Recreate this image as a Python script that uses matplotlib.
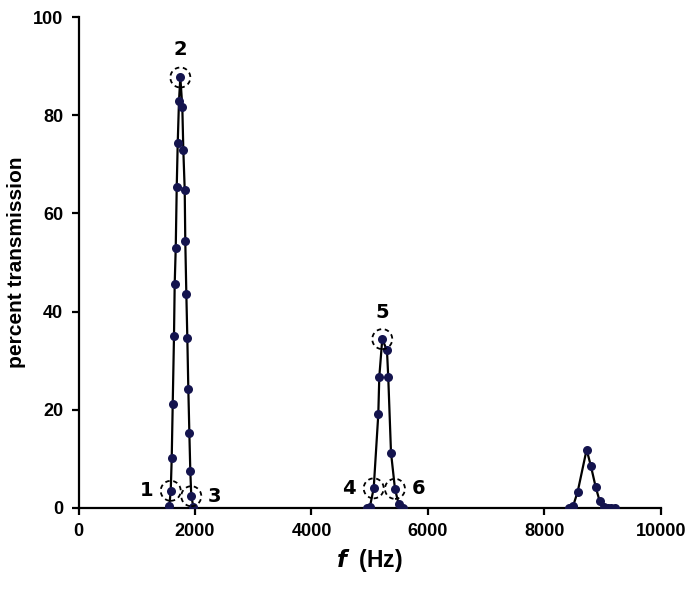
import matplotlib
matplotlib.use('Agg')
import matplotlib.pyplot as plt
from matplotlib.patches import Circle
from matplotlib.transforms import ScaledTranslation

# Transmission spectrum, three passbands
freq_1 = [1559, 1583, 1600, 1617, 1639, 1651, 1669, 1686, 1703, 1725, 1748,
          1782, 1799, 1823, 1833, 1851, 1868, 1885, 1903, 1919, 1936, 1971]
trans_1 = [0.4, 3.5, 10.2, 21.1, 35.0, 45.6, 53.0, 65.4, 74.3, 83.0, 87.7,
           81.7, 73.0, 64.8, 54.3, 43.6, 34.6, 24.3, 15.2, 7.6, 2.4, 0.3]

freq_2 = [4960, 5000, 5068, 5147, 5164, 5215, 5296, 5318, 5365, 5433, 5497, 5566]
trans_2 = [0.0, 0.1, 4.0, 19.1, 26.7, 34.4, 32.1, 26.6, 11.3, 3.9, 0.8, 0.0]

freq_3 = [8415, 8494, 8570, 8724, 8798, 8879, 8948, 9021, 9095, 9150, 9210]
trans_3 = [0.0, 0.5, 3.3, 11.9, 8.5, 4.3, 1.4, 0.1, 0.0, 0.0, 0.0]

# circled points: label, (f, T), label offset in points
marked = [('1', (1583, 3.5), (-17, 0)),
          ('2', (1748, 87.7), (0, 20)),
          ('3', (1936, 2.4), (17, 0)),
          ('4', (5068, 4.0), (-18, 0)),
          ('5', (5215, 34.4), (0, 19)),
          ('6', (5433, 3.9), (17, 0))]

line_color = 'black'
dot_color = '#14144e'

fig = plt.figure(figsize=(6.95, 5.9), dpi=100)
ax = fig.add_axes([0.113, 0.139, 0.838, 0.832])

for f, t in [(freq_1, trans_1), (freq_2, trans_2), (freq_3, trans_3)]:
    ax.plot(f, t, '-', color=line_color, linewidth=1.6, zorder=2)
    ax.plot(f, t, 'o', color=dot_color, markersize=6.5, markeredgewidth=0, zorder=3)

ax.set_xlim(0, 10000)
ax.set_ylim(0, 100)
ax.set_xticks([0, 2000, 4000, 6000, 8000, 10000])
ax.set_yticks([0, 20, 40, 60, 80, 100])

for lab, (fx, fy), off in marked:
    tr = fig.dpi_scale_trans + ScaledTranslation(fx, fy, ax.transData)
    circ = Circle((0, 0), 0.1, transform=tr, fill=False, edgecolor='black',
                  linestyle=(0, (2.5, 2)), linewidth=1.3, zorder=4, clip_on=False)
    ax.add_patch(circ)
    ax.annotate(lab, (fx, fy), xytext=off, textcoords='offset points',
                ha='center', va='center', fontsize=14, fontweight='bold',
                family='Liberation Sans Narrow', color='black')

for s in ['top', 'right']:
    ax.spines[s].set_visible(False)
for s in ['left', 'bottom']:
    ax.spines[s].set_linewidth(1.6)
    ax.spines[s].set_color('black')

ax.tick_params(direction='out', length=5, width=1.6, labelsize=13, pad=6)
for lbl in ax.get_xticklabels() + ax.get_yticklabels():
    lbl.set_fontweight('bold')
    lbl.set_family('Liberation Sans')

ax.set_ylabel('percent transmission', fontsize=15, fontweight='bold',
              family='Liberation Sans', labelpad=5)
ax.set_xlabel(r'$\mathbfit{f}$  (Hz)', fontsize=16.5, fontweight='bold',
              family='Liberation Sans', labelpad=5)

plt.savefig('out.png', dpi=100, facecolor='white')
